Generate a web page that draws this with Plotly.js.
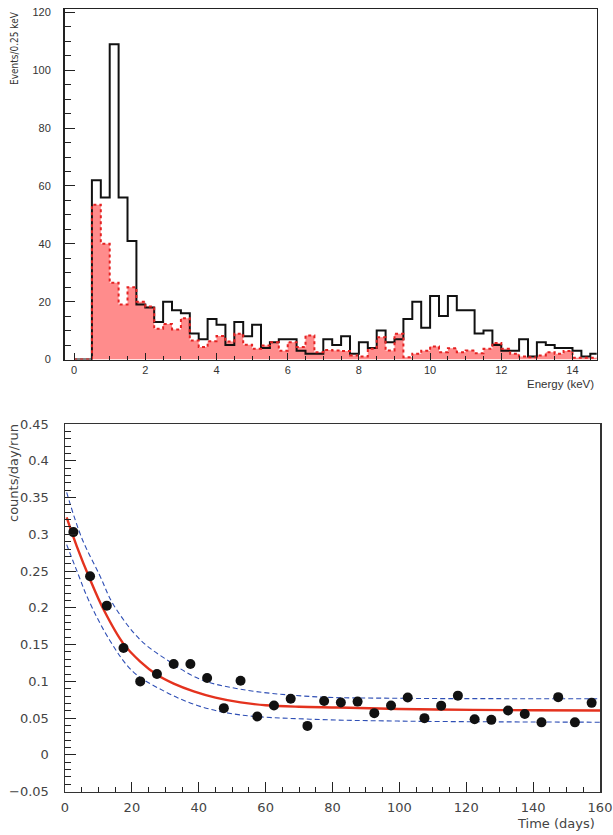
<!DOCTYPE html>
<html>
<head>
<meta charset="utf-8">
<script src="https://cdn.plot.ly/plotly-3.0.1.min.js"></script>
<style>html,body{margin:0;padding:0;background:#fff}#chart{width:613px;height:835px}</style>
</head>
<body>
<div id="chart"></div>
<script>
// ---------- Top panel: energy spectrum (0.25 keV bins, starting at 0 keV) ----------
const binWidth = 0.25;
const totalCounts = [0, 0, 62, 56, 109, 56, 41, 19, 18, 13, 20, 17, 16, 9, 7, 14, 12, 5, 13, 8,
  12, 4, 6, 7, 7, 3, 2, 2, 7, 5, 8, 2, 6, 4, 10, 6, 7, 14, 20, 11,
  22, 15, 22, 17, 17, 9, 10, 5, 3, 3, 7, 1, 6, 5, 4, 4, 3, 1, 2];
const backgroundCounts = [0, 0, 53.5, 40, 26.5, 19, 25, 20, 18.3, 10.6, 12.3, 10.4, 14.3, 6.6, 4.3, 6.3, 8.1, 6.2, 8.9, 5.1,
  3.7, 4.8, 6, 3, 6, 4.3, 8.3, 2.5, 3.3, 3.1, 2.9, 1.4, 1, 3.7, 7.7, 3.1, 8.9, 0.8, 2, 3,
  4.5, 2.5, 3.9, 2.5, 3.1, 2.2, 3.7, 5.7, 3.7, 2, 1, 0.8, 1.4, 2.5, 2, 2.9, 0.6, 0.6, 0.6];

// ---------- Bottom panel: rate vs time ----------
const days = [2.5, 7.5, 12.5, 17.5, 22.5, 27.5, 32.5, 37.5, 42.5, 47.5, 52.5, 57.5, 62.5, 67.5, 72.5, 77.5,
  82.5, 87.5, 92.5, 97.5, 102.5, 107.5, 112.5, 117.5, 122.5, 127.5, 132.5, 137.5, 142.5, 147.5, 152.5, 157.5];
const rates = [0.303, 0.243, 0.203, 0.1454, 0.100, 0.110, 0.1236, 0.1236, 0.1045, 0.0636, 0.1009, 0.0523, 0.0673, 0.0763, 0.0395, 0.0734,
  0.0713, 0.0725, 0.0568, 0.0673, 0.078, 0.050, 0.0670, 0.0806, 0.0486, 0.0477, 0.0604, 0.0556, 0.0443, 0.0786, 0.0443, 0.0708];

const fitDays = [0.5, 3.5, 7.5, 11.5, 17.5, 22.5, 27.5, 32.5, 38.5, 45, 52.5, 60, 70, 82, 100, 122, 140, 160];
const fitRate = [0.323, 0.284, 0.2385, 0.198, 0.151, 0.127, 0.109, 0.097, 0.0865, 0.078, 0.0715, 0.0675, 0.0655, 0.0645, 0.0625, 0.0613, 0.0607, 0.0604];

const upperDays = [0.5, 5, 10.5, 14.4, 22.4, 30.4, 40.4, 52.3, 73.3, 100, 130, 160];
const upperRate = [0.357, 0.295, 0.243, 0.205, 0.157, 0.1295, 0.103, 0.0895, 0.0795, 0.077, 0.0765, 0.0763];
const lowerDays = [0.5, 4, 7, 13.5, 20.4, 30.4, 40.4, 52.3, 73.3, 100, 130, 160];
const lowerRate = [0.286, 0.245, 0.211, 0.155, 0.113, 0.085, 0.066, 0.0545, 0.0486, 0.046, 0.045, 0.0445];

function stepXY(vals) {
  const xs = [], ys = [];
  vals.forEach((v, i) => { xs.push(i * binWidth); ys.push(v); });
  xs.push(vals.length * binWidth); ys.push(vals[vals.length - 1]);
  return {xs, ys};
}
const tot = stepXY(totalCounts);
const bkg = stepXY(backgroundCounts);

const traces = [
  {x: bkg.xs, y: bkg.ys, type: 'scatter', mode: 'lines', line: {shape: 'hv', width: 0, color: 'rgba(0,0,0,0)'},
   fill: 'tozeroy', fillcolor: '#ff8c8c', xaxis: 'x', yaxis: 'y', hoverinfo: 'skip'},
  {x: tot.xs, y: tot.ys, type: 'scatter', mode: 'lines', line: {shape: 'hv', width: 2, color: '#111'},
   xaxis: 'x', yaxis: 'y'},
  {x: bkg.xs, y: bkg.ys, type: 'scatter', mode: 'lines', line: {shape: 'hv', width: 2, color: '#e52222', dash: 'dot'},
   xaxis: 'x', yaxis: 'y'},
  {x: upperDays, y: upperRate, type: 'scatter', mode: 'lines', line: {shape: 'spline', width: 1.1, color: '#2f4fb5', dash: '5px,3px'},
   xaxis: 'x2', yaxis: 'y2'},
  {x: lowerDays, y: lowerRate, type: 'scatter', mode: 'lines', line: {shape: 'spline', width: 1.1, color: '#2f4fb5', dash: '5px,3px'},
   xaxis: 'x2', yaxis: 'y2'},
  {x: fitDays, y: fitRate, type: 'scatter', mode: 'lines', line: {shape: 'spline', width: 2.4, color: '#e4321e'},
   xaxis: 'x2', yaxis: 'y2'},
  {x: days, y: rates, type: 'scatter', mode: 'markers', marker: {size: 10, color: '#111'},
   xaxis: 'x2', yaxis: 'y2'}
];

const W = 613, H = 835;
const topFont = {family: 'Liberation Sans, Arial, sans-serif', size: 11, color: '#333'};
const botFont = {family: 'DejaVu Sans, sans-serif', size: 13, color: '#444'};

const layout = {
  width: W, height: H,
  margin: {l: 0, r: 0, t: 0, b: 0},
  paper_bgcolor: '#fff', plot_bgcolor: '#fff',
  showlegend: false,
  xaxis: {
    domain: [64.5 / W, 596.7 / W], anchor: 'y', range: [-0.27, 14.68],
    dtick: 2, tick0: 0, ticks: 'inside', ticklen: 7, tickwidth: 1, tickcolor: '#222',
    minor: {dtick: 0.5, ticks: 'inside', ticklen: 4, tickcolor: '#222'},
    showgrid: false, zeroline: false, showline: true, linecolor: '#222', linewidth: 1.5, mirror: true,
    tickfont: topFont, ticklabelstandoff: 0
  },
  yaxis: {
    domain: [1 - 359.5 / H, 1 - 9 / H], anchor: 'x', range: [0, 121.2],
    dtick: 20, tick0: 0, ticks: 'inside', ticklen: 10, tickwidth: 1, tickcolor: '#222',
    minor: {dtick: 5, ticks: 'inside', ticklen: 6, tickcolor: '#222'},
    showgrid: false, zeroline: false, showline: true, linecolor: '#222', linewidth: 1.5, mirror: true,
    tickfont: topFont, ticklabelstandoff: 10
  },
  xaxis2: {
    domain: [65 / W, 600 / W], anchor: 'y2', range: [0, 160],
    dtick: 20, tick0: 0, ticks: 'inside', ticklen: 10, tickwidth: 1, tickcolor: '#222',
    minor: {dtick: 5, ticks: 'inside', ticklen: 5, tickcolor: '#222'},
    showgrid: false, zeroline: false, showline: true, linecolor: '#333', linewidth: 1.5, mirror: true,
    tickfont: botFont, ticklabelstandoff: 3
  },
  yaxis2: {
    domain: [1 - 791.7 / H, 1 - 424 / H], anchor: 'x2', range: [-0.05, 0.45],
    dtick: 0.05, tick0: 0, ticks: 'inside', ticklen: 11, tickwidth: 1, tickcolor: '#222',
    minor: {dtick: 0.01, ticks: 'inside', ticklen: 6, tickcolor: '#222'},
    showgrid: false, zeroline: false, showline: true, linecolor: '#333', linewidth: 1.5, mirror: true,
    tickfont: botFont, ticklabelstandoff: 12
  },
  annotations: [
    {text: 'Events/0.25 keV', xref: 'paper', yref: 'paper', x: 15 / W, y: 1 - 9 / H,
     xanchor: 'center', yanchor: 'top', textangle: -90, showarrow: false,
     font: {family: 'DejaVu Sans Condensed, Liberation Sans Narrow, sans-serif', size: 10, color: '#333'}},
    {text: 'Energy (keV)', xref: 'paper', yref: 'paper', x: 596 / W, y: 1 - 384 / H,
     xanchor: 'right', yanchor: 'middle', showarrow: false,
     font: {family: 'Liberation Sans, Arial, sans-serif', size: 11.5, color: '#333'}},
    {text: 'counts/day/run', xref: 'paper', yref: 'paper', x: 13 / W, y: 1 - 422 / H,
     xanchor: 'center', yanchor: 'top', textangle: -90, showarrow: false,
     font: {family: 'DejaVu Sans, sans-serif', size: 13, color: '#444'}},
    {text: 'Time (days)', xref: 'paper', yref: 'paper', x: 597 / W, y: 1 - 823 / H,
     xanchor: 'right', yanchor: 'middle', showarrow: false,
     font: {family: 'DejaVu Sans, sans-serif', size: 13, color: '#444'}}
  ]
};

Plotly.newPlot('chart', traces, layout, {displayModeBar: false, staticPlot: true});
</script>
</body>
</html>
